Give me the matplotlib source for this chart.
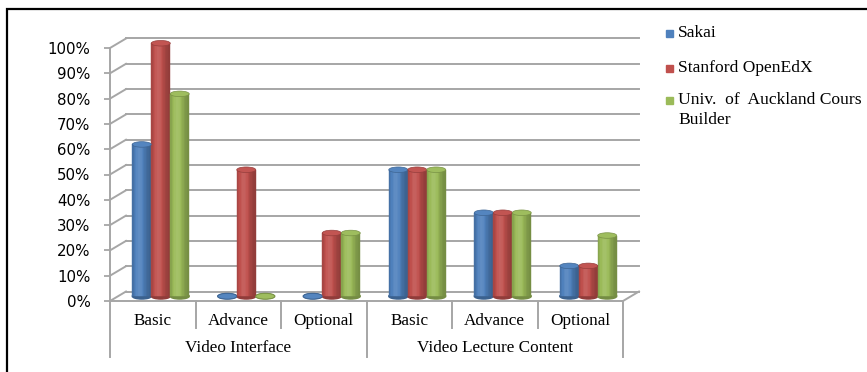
import matplotlib
matplotlib.use("Agg")
import matplotlib.pyplot as plt
import numpy as np
from matplotlib.lines import Line2D
from matplotlib.patches import Ellipse, Rectangle
from matplotlib.transforms import IdentityTransform, offset_copy
from matplotlib.colors import to_rgb

# ── data ──────────────────────────────────────────────────────────────────────
categories = ["Basic", "Advance", "Optional", "Basic", "Advance", "Optional"]
groups = ["Video Interface", "Video Lecture Content"]
series = ["Sakai", "Stanford OpenEdX", "Univ.  of  Auckland Cours\nBuilder"]
sakai = [60, 0, 0, 50, 33, 12]
stanford = [100, 50, 25, 50, 33, 12]
auckland = [80, 0, 25, 50, 33, 24]
colors = ["#4F81BD", "#C0504D", "#9BBB59"]
yticks = list(range(0, 101, 10))

W, H = 867, 372
fig = plt.figure(figsize=(W / 100, H / 100), dpi=100)
ax = fig.add_axes([110 / W, 1 - 301 / H, 513 / W, 253 / H])
ax.set_xlim(-0.5, 5.5)
ax.set_ylim(0, 100)
ax.patch.set_visible(False)
for s in ax.spines.values():
    s.set_visible(False)
ax.set_xticks([])
ax.set_yticks(yticks)
ax.set_yticklabels([f"{v}%" for v in yticks], fontsize=10.8, family="DejaVu Sans")
ax.tick_params(axis="y", length=4, width=1.3, color="#a6a6a6", pad=10)

grid_c = "#a6a6a6"
DX, DY = 16, 9.5
back = offset_copy(ax.transData, fig, x=DX, y=DY, units="dots")
mid = offset_copy(ax.transData, fig, x=DX / 2, y=DY / 2, units="dots")


def dline(p0, p1, **kw):
    fig.add_artist(Line2D([p0[0], p1[0]], [p0[1], p1[1]],
                          transform=IdentityTransform(), **kw))


# back wall + left wall gridlines
for v in yticks:
    ax.plot([-0.5, 5.5], [v, v], transform=back, color=grid_c, lw=1.4,
            clip_on=False, zorder=1)
    p = ax.transData.transform((-0.5, v))
    dline(p, p + np.array([DX, DY]), color=grid_c, lw=1.4, zorder=1)

# floor front edge and right edge
p0 = ax.transData.transform((-0.5, 0))
p1 = ax.transData.transform((5.5, 0))
dline(p0, p1, color=grid_c, lw=1.4, zorder=1)
dline(p1, p1 + np.array([DX, DY]), color=grid_c, lw=1.4, zorder=1)

# left axis and category separators
top = ax.transData.transform((-0.5, 100))
dline(top, p0 - np.array([0, 56]), color=grid_c, lw=1.4)
for i in range(1, 7):
    q = ax.transData.transform((i - 0.5, 0))
    depth = 56 if i in (3, 6) else 27
    dline(q, q - np.array([0, depth]), color=grid_c, lw=1.4)

# category labels
cat_t = offset_copy(ax.transData, fig, x=0, y=-20, units="dots")
grp_t = offset_copy(ax.transData, fig, x=0, y=-47, units="dots")
for i, c in enumerate(categories):
    ax.text(i, 0, c, transform=cat_t, ha="center", va="center",
            fontsize=12.3, family="Liberation Serif")
for g, gi in zip(groups, [1, 4]):
    ax.text(gi, 0, g, transform=grp_t, ha="center", va="center",
            fontsize=12.3, family="Liberation Serif")


def shade(c, f):
    c = np.array(to_rgb(c))
    if f >= 1:
        return tuple(c + (1 - c) * (f - 1))
    return tuple(c * f)


# cylinders
bw = 0.222
nsl = 14
cap_h = 2.2
for k, (vals, col) in enumerate(zip([sakai, stanford, auckland], colors)):
    for i, v in enumerate(vals):
        xc = i + (k - 1) * bw
        ax.add_patch(Ellipse((xc, 0), bw, cap_h, transform=mid,
                             color=shade(col, 0.75), zorder=3, clip_on=False))
        if v > 0:
            edges = np.linspace(xc - bw / 2, xc + bw / 2, nsl + 1)
            for j in range(nsl):
                t = (j + 0.5) / nsl
                f = 0.74 + 0.36 * np.exp(-((t - 0.38) / 0.34) ** 2)
                c = shade(col, f)
                ax.bar(edges[j], v, width=bw / nsl, align="edge",
                       color=c, edgecolor=c, linewidth=0.3, transform=mid,
                       zorder=4, clip_on=False)
        ax.add_patch(Ellipse((xc, v), bw, cap_h, transform=mid,
                             facecolor=shade(col, 1.03),
                             edgecolor=shade(col, 0.78), lw=0.5,
                             zorder=5, clip_on=False))

# legend
leg_y = [33, 68, 100]
for name, col, y in zip(series, colors, leg_y):
    fig.add_artist(Rectangle((666, H - y - 3.5), 7, 7,
                             transform=IdentityTransform(), color=col))
    lines = name.split("\n")
    for n, line in enumerate(lines):
        fig.text(678, H - y - 20 * n, line, ha="left", va="center",
                 fontsize=12.6, family="Liberation Serif",
                 transform=IdentityTransform())

# frame
fig.add_artist(Rectangle((7, -10), 880, H - 9 + 10, transform=IdentityTransform(),
                         fill=False, edgecolor="black", lw=1.6))

fig.savefig("out.png", dpi=100)
